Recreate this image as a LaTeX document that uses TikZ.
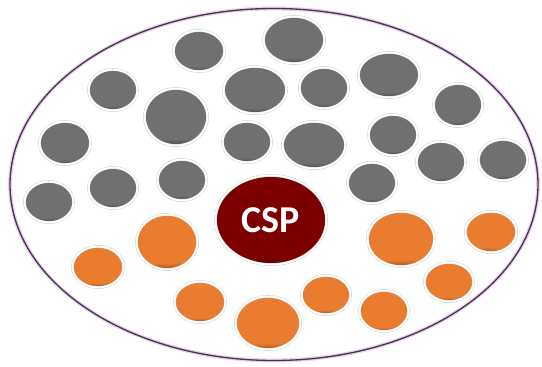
\documentclass[tikz,border=0pt]{standalone}
\usepackage{fontspec}
\setmainfont{Carlito}
\usetikzlibrary{shapes.geometric}
\definecolor{blobgray}{RGB}{112,112,112}
\definecolor{blobgraydark}{RGB}{72,72,72}
\definecolor{bloborange}{RGB}{234,124,48}
\definecolor{bloborangedark}{RGB}{170,80,22}
\definecolor{cspred}{RGB}{125,0,0}
\definecolor{cspreddark}{RGB}{90,0,0}
\definecolor{rimnavy}{RGB}{52,56,112}
\definecolor{rimpink}{RGB}{240,160,175}
\pgfdeclareverticalshading{grayrim}{100bp}{color(0bp)=(blobgraydark); color(25bp)=(blobgraydark); color(31bp)=(blobgray); color(100bp)=(blobgray)}
\pgfdeclareverticalshading{orangerim}{100bp}{color(0bp)=(bloborangedark); color(25bp)=(bloborangedark); color(31bp)=(bloborange); color(100bp)=(bloborange)}
\pgfdeclareverticalshading{redrim}{100bp}{color(0bp)=(cspreddark); color(25bp)=(cspreddark); color(29bp)=(cspred); color(100bp)=(cspred)}
\tikzset{
  blob/.style={ellipse, inner sep=0pt, draw=black!22, double=white, double distance=2.8pt, line width=0.5pt},
  grayblob/.style={blob, shading=grayrim},
  orangeblob/.style={blob, shading=orangerim},
}

\begin{document}
\begin{tikzpicture}[x=0.5mm, y=-0.5mm]
			%%%%% START %%%%%
			\useasboundingbox (0,0) rectangle (542,367);
			
			% outer ring
			\draw[rimpink, line width=5.5pt, opacity=0.5] (274,184.5) ellipse [x radius=264, y radius=176];
			\draw[rimnavy, line width=1.9pt] (274,184.5) ellipse [x radius=264, y radius=176];
			
			% gray members
			\foreach \x/\y/\rx/\ry [count=\i] in {199/51/27/22, 113/90/26/22, 176/117/33/30, 65/143/27/23,
			    255/90/33/25, 247/142/26/22, 294/40/32/25, 324/88/26/22, 389/75/32/24, 458/105/26/23,
			    314/145/33/25, 393/135/26/22, 441/162/26/22, 503/160/26/22, 372/183/26/22,
			    49/202/26/22, 113/188/26/22, 182/180/26/22}
			  \node[grayblob, minimum width={(\rx-1.5)*1mm}, minimum height={(\ry-1.5)*1mm}] (gray\i) at (\x,\y) {};
			
			% orange members
			\foreach \x/\y/\rx/\ry [count=\i] in {98/267/27/22, 167/242/32/29, 200/302/27/22, 268/323/34/28,
			    401/239/35/29, 491/232/27/22, 326/295/26/21, 384/311/26/22, 449/282/26/21}
			  \node[orangeblob, minimum width={(\rx-1.5)*1mm}, minimum height={(\ry-1.5)*1mm}] (orange\i) at (\x,\y) {};
			
			% CSP
			\node[blob, shading=redrim, minimum width=55.5mm, minimum height=44.5mm, text=white,
			      font=\fontsize{54}{54}\selectfont\bfseries] (csp) at (271,220) {CSP};
			
			%%%%% END %%%%%
		\end{tikzpicture}
\end{document}
